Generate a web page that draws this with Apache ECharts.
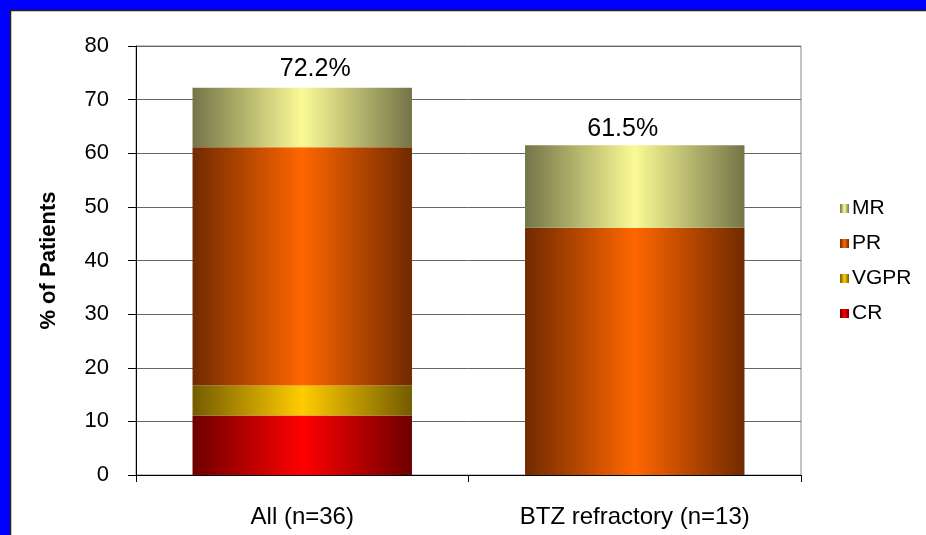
<!DOCTYPE html>
<html>
<head>
<meta charset="utf-8">
<script src="https://cdn.jsdelivr.net/npm/echarts@6/dist/echarts.min.js"></script>
<style>
  html, body { margin: 0; padding: 0; background: #fff; }
  #chart { width: 926px; height: 535px; }
</style>
</head>
<body>
<div id="chart"></div>
<script>
// Response categories per patient group (% of patients)
var categories = ['All (n=36)', 'BTZ refractory (n=13)'];
var crValues   = [11.1, 0];
var vgprValues = [5.6, 0];
var prValues   = [44.4, 46.1];
var mrValues   = [11.1, 15.4];
var yTicks = { min: 0, max: 80, interval: 10 };

var font = '"Liberation Sans", Arial, sans-serif';

function barGradient(edge, center) {
  return new echarts.graphic.LinearGradient(0, 0, 1, 0, [
    { offset: 0, color: edge },
    { offset: 0.5, color: center },
    { offset: 1, color: edge }
  ]);
}

var totals = categories.map(function (_, i) {
  return crValues[i] + vgprValues[i] + prValues[i] + mrValues[i];
});

function stackSeries(name, data, edge, center, withTotal) {
  var s = {
    name: name,
    type: 'bar',
    stack: 'resp',
    data: data,
    barWidth: '66%',
    itemStyle: { color: barGradient(edge, center) },
    emphasis: { disabled: true }
  };
  if (withTotal) {
    // total label sits on the top segment; nudged sideways per bar
    var nudge = [[13, -2], [-12, 0]];
    s.data = data.map(function (v, i) {
      return { value: v, label: { offset: nudge[i] } };
    });
    s.label = {
      show: true,
      position: 'top',
      distance: 4,
      fontFamily: font,
      fontSize: 25,
      color: '#000',
      formatter: function (p) { return totals[p.dataIndex].toFixed(1) + '%'; }
    };
  }
  return s;
}

var chart = echarts.init(document.getElementById('chart'), null, { renderer: 'canvas' });
chart.setOption({
  animation: false,
  backgroundColor: '#fff',
  grid: {
    left: 136, right: 125, top: 46, bottom: 60,
    show: true, borderColor: '#888', borderWidth: 1, backgroundColor: 'transparent'
  },
  legend: {
    orient: 'vertical',
    left: 835,
    top: 193,
    itemWidth: 9,
    itemHeight: 9,
    itemGap: 14,
    icon: 'rect',
    data: ['MR', 'PR', 'VGPR', 'CR'],
    textStyle: { fontFamily: font, fontSize: 21, color: '#000', padding: [0, 0, 0, -2] }
  },
  xAxis: {
    type: 'category',
    data: categories,
    axisLine: { lineStyle: { color: '#000', width: 1 } },
    axisTick: { show: true, length: 7, lineStyle: { color: '#000' } },
    axisLabel: { margin: 30, fontFamily: font, fontSize: 24, color: '#000' }
  },
  yAxis: {
    type: 'value',
    min: yTicks.min,
    max: yTicks.max,
    interval: yTicks.interval,
    name: '% of Patients',
    nameLocation: 'middle',
    nameGap: 76,
    nameTextStyle: { fontFamily: font, fontSize: 22, fontWeight: 'bold', color: '#000' },
    axisLine: { show: true, lineStyle: { color: '#000', width: 1 } },
    axisTick: { show: true, length: 8, lineStyle: { color: '#000' } },
    axisLabel: { margin: 27, fontFamily: font, fontSize: 22, color: '#000' },
    splitLine: { show: true, lineStyle: { color: '#666', width: 1 } }
  },
  series: [
    stackSeries('CR', crValues, '#6e0000', '#ff0000', false),
    stackSeries('VGPR', vgprValues, '#735c00', '#ffcc00', false),
    stackSeries('PR', prValues, '#702a00', '#ff6600', false),
    stackSeries('MR', mrValues, '#747448', '#fafa96', true)
  ],
  graphic: [
    { type: 'rect', shape: { x: 0, y: 0, width: 926, height: 10 }, style: { fill: '#0000ff' }, z: 100 },
    { type: 'rect', shape: { x: 0, y: 0, width: 10, height: 535 }, style: { fill: '#0000ff' }, z: 100 },
    { type: 'line', shape: { x1: 10, y1: 10.5, x2: 926, y2: 10.5 }, style: { stroke: '#222', lineWidth: 1.5 }, z: 100 },
    { type: 'line', shape: { x1: 10.5, y1: 10, x2: 10.5, y2: 535 }, style: { stroke: '#222', lineWidth: 1.5 }, z: 100 }
  ]
});
</script>
</body>
</html>
